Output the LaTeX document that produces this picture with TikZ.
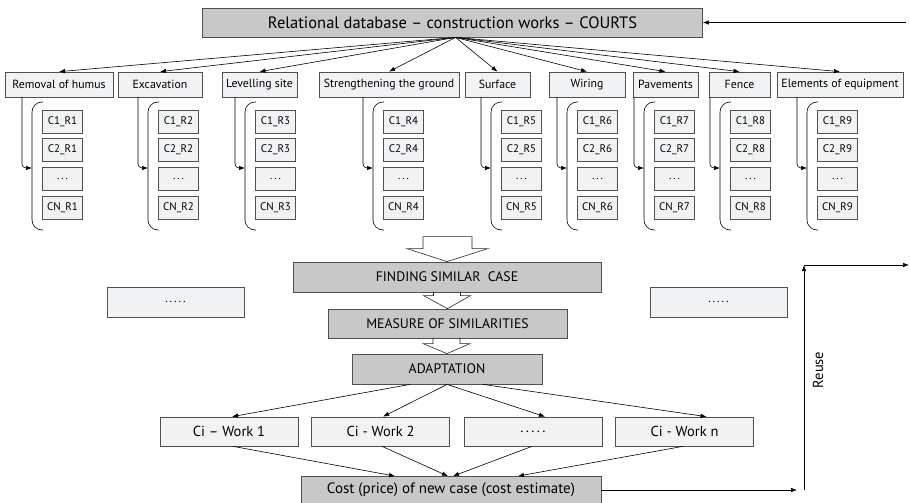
\documentclass[tikz,border=0pt]{standalone}
\usepackage{fontspec}
\setmainfont{PT Sans}
\usepackage{tikz}
\usetikzlibrary{positioning,calc,arrows.meta}
\definecolor{darkbox}{HTML}{C8C8C8}
\definecolor{lightbox}{HTML}{F1F2F4}
\definecolor{edge}{HTML}{505050}
\tikzset{
  gbox/.style={draw=edge,fill=darkbox,line width=0.8pt,inner sep=0pt,minimum height=29pt,font=\fontsize{13.8}{15}\selectfont},
  wbox/.style={draw=edge,fill=lightbox,line width=0.7pt,inner sep=0pt,minimum height=25pt,font=\fontsize{11.8}{13}\selectfont},
  case/.style={wbox,minimum width=40pt,minimum height=23pt,font=\fontsize{11}{12}\selectfont},
  work/.style={wbox,minimum width=138pt,minimum height=29pt,font=\fontsize{14.5}{16}\selectfont},
  tip/.style={-{Latex[length=6pt,width=4.5pt]},line width=0.6pt},
  hollow/.style={draw=black!85,line width=0.6pt}
}

\begin{document}
\begin{tikzpicture}[x=1pt,y=-1pt]
    \useasboundingbox (0,0) rectangle (910,503);
    \node[gbox,minimum width=500pt,font=\fontsize{16.5}{18}\selectfont] (DB) at (452.5,22.5) {Relational database -- construction works -- COURTS};
    \coordinate (E) at (906,22.5);
    \draw[tip] (E) -- (DB.east);
    \foreach \i/\cx/\w/\t in {1/59/108/Removal of humus, 2/160/84/Excavation, 3/259.5/75/Levelling site, 4/389/140/Strengthening the ground, 5/497.5/65/Surface, 6/587/76/Wiring, 7/665.5/65/Pavements, 8/739.5/61/Fence, 9/840/126/Elements of equipment}{
        \node[wbox,minimum width=\w pt] (R\i) at (\cx,84.5) {\t};
        \draw[tip] ($(DB.south)+(3,0)$) -- (R\i.north);
    }
    \foreach \i/\lx in {1/22,2/138,3/235,4/363,5/481,6/557,7/634,8/710,9/797}{
        \node[case] (A\i) at (\lx+40.5,121.5) {C1\_R\i};
        \node[case] (B\i) at (\lx+40.5,150) {C2\_R\i};
        \node[case] (D\i) at (\lx+40.5,178.5) {.\,.\,.};
        \node[case] (N\i) at (\lx+40.5,208) {CN\_R\i};
        \draw[rounded corners=10pt,line width=0.6pt] (\lx+21,102) -- (\lx+10,102) -- (\lx+10,230) -- (\lx+21,230);
        \coordinate (S\i) at (\lx,97);
        \coordinate (K\i) at (\lx+10,168);
        \draw[tip,rounded corners=4pt] (S\i) |- (K\i);
    }
    \node[gbox,minimum width=308pt,minimum height=30pt] (FS) at (447,277) {FINDING SIMILAR\ \ CASE};
    \node[gbox,minimum width=239pt] (MS) at (447.5,323.5) {MEASURE OF SIMILARITIES};
    \node[gbox,minimum width=190pt,minimum height=30pt] (AD) at (447,369) {ADAPTATION};
    \node[wbox,minimum width=137pt,minimum height=30pt] (L) at (175.5,302) {.\,.\,.\,.\,.};
    \node[wbox,minimum width=137pt,minimum height=30pt] (Rt) at (718.5,302) {.\,.\,.\,.\,.};
    \draw[hollow] ($(FS.north)+(-24,-25)$) -- ($(FS.north)+(25,-25)$) -- ($(FS.north)+(25,-13)$) -- ($(FS.north)+(41,-13)$) -- (FS.north) -- ($(FS.north)+(-40,-13)$) -- ($(FS.north)+(-24,-13)$) -- cycle;
    \draw[hollow] ($(MS.north)+(-14,-17)$) -- ($(MS.north)+(-14,-13)$) -- ($(MS.north)+(-24,-13)$) -- (MS.north) -- ($(MS.north)+(23,-13)$) -- ($(MS.north)+(13,-13)$) -- ($(MS.north)+(13,-17)$);
    \draw[hollow] ($(AD.north)+(-14,-16)$) -- ($(AD.north)+(-14,-10)$) -- ($(AD.north)+(-24,-10)$) -- (AD.north) -- ($(AD.north)+(23,-10)$) -- ($(AD.north)+(13,-10)$) -- ($(AD.north)+(13,-16)$);
    \node[work] (W1) at (229,431.5) {Ci -- Work 1};
    \node[work] (W2) at (380.5,431.5) {Ci - Work 2};
    \node[work] (W3) at (533,431.5) {.\,.\,.\,.\,.};
    \node[work] (Wn) at (684.5,431.5) {Ci - Work n};
    \draw[tip] ($(AD.south)+(-37,0)$) -- ($(W1.north)+(3,0)$);
    \draw[tip] (AD.south) -- ($(W2.north)+(2.5,0)$);
    \draw[tip] (AD.south) -- ($(W3.north)+(12,0)$);
    \draw[tip] ($(AD.south)+(36,0)$) -- ($(Wn.north)+(22,0)$);
    \node[gbox,minimum width=300pt,minimum height=27pt,font=\fontsize{15}{17}\selectfont] (CE) at (451,490) {Cost (price) of new case (cost estimate)};
    \draw[tip] ($(W1.south)+(4,0)$) -- ($(CE.north)+(-56,0)$);
    \draw[tip] ($(W2.south)+(1.5,0)$) -- ($(CE.north)+(-3,0)$);
    \draw[tip] ($(W3.south)+(-1,0)$) -- ($(CE.north)+(2,0)$);
    \draw[tip] ($(Wn.south)+(-1.5,0)$) -- ($(CE.north)+(67,0)$);
    \coordinate (Q) at (797,490);
    \coordinate (P) at (804,490);
    \coordinate (U) at (804,265);
    \coordinate (V) at (909,265);
    \draw[tip] (CE.east) -- (Q);
    \draw[tip] (P) -- (U);
    \draw[tip] (U) -- (V);
    \node[rotate=90,font=\fontsize{14.5}{16}\selectfont] (RU) at (818,370) {Reuse};
\end{tikzpicture}
\end{document}
